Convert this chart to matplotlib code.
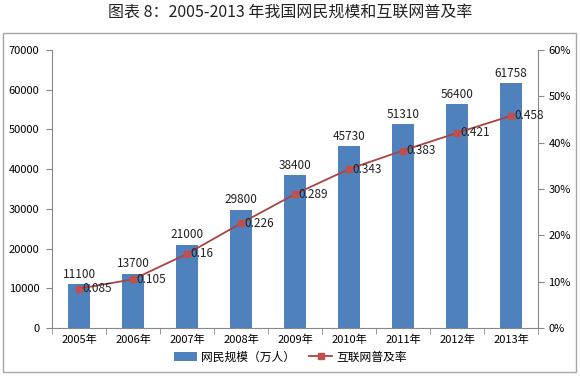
import numpy as np
import matplotlib
matplotlib.use("Agg")
import matplotlib.pyplot as plt
from matplotlib.patches import Rectangle
from matplotlib.ticker import FuncFormatter

plt.rcParams['font.family'] = ['Noto Sans CJK SC', 'DejaVu Sans']

years = ['2005年', '2006年', '2007年', '2008年', '2009年', '2010年', '2011年', '2012年', '2013年']
users = [11100, 13700, 21000, 29800, 38400, 45730, 51310, 56400, 61758]
rate = [0.085, 0.105, 0.16, 0.226, 0.289, 0.343, 0.383, 0.421, 0.458]
rate_labels = ['0.085', '0.105', '0.16', '0.226', '0.289', '0.343', '0.383', '0.421', '0.458']

bar_color = '#4F81BD'
line_color = '#A94440'
mark_color = '#C0504D'
axis_grey = '#888888'

fig = plt.figure(figsize=(5.8, 3.78), dpi=100)
fig.patch.set_facecolor('white')

# outer frame
fig.patches.append(Rectangle((3 / 580, 6 / 378), 573 / 580, 339 / 378,
                             transform=fig.transFigure, fill=False,
                             edgecolor='#A6A6A6', linewidth=1.0))

fig.text(0.5, 1 - 12 / 378, '图表 8：2005-2013 年我国网民规模和互联网普及率',
         ha='center', va='center', fontsize=11.5, color='#222222')

ax = fig.add_axes([52 / 580, 50 / 378, 486 / 580, 278 / 378])
x = np.arange(len(years))
bars = ax.bar(x, users, width=0.4, color=bar_color, label='网民规模（万人）', zorder=2)
ax.set_xlim(-0.5, len(years) - 0.5)
ax.set_ylim(0, 70000)
ax.set_yticks(np.arange(0, 70001, 10000))
ax.set_xticks(x)
ax.set_xticklabels(years, fontsize=8)
ax.set_xticks(np.arange(-0.5, len(years), 1), minor=True)
ax.tick_params(axis='x', which='major', length=0, pad=5)
ax.tick_params(axis='x', which='minor', length=4, color=axis_grey)
ax.tick_params(axis='y', labelsize=8, length=4, color=axis_grey, pad=5)
for s in ['top', 'right']:
    ax.spines[s].set_visible(False)
for s in ['left', 'bottom']:
    ax.spines[s].set_color(axis_grey)

for xi, v in zip(x, users):
    ax.text(xi, v + 800, str(v), ha='center', va='bottom', fontsize=8.5, color='#222222')

ax2 = ax.twinx()
ln, = ax2.plot(x, rate, color=line_color, linewidth=1.3, marker='s', markersize=5,
               markerfacecolor=mark_color, markeredgecolor=mark_color,
               label='互联网普及率', zorder=3)
ax2.set_ylim(0, 0.6)
ax2.set_yticks(np.arange(0, 0.61, 0.1))
ax2.yaxis.set_major_formatter(FuncFormatter(lambda v, p: '%d%%' % round(v * 100)))
ax2.tick_params(axis='y', labelsize=8, length=4, color=axis_grey)
for s in ['top', 'left', 'bottom']:
    ax2.spines[s].set_visible(False)
ax2.spines['right'].set_color(axis_grey)

for xi, v, t in zip(x, rate, rate_labels):
    ax2.text(xi + 0.06, v, t, ha='left', va='center', fontsize=8.5, color='#222222')

fig.legend([bars, ln], ['网民规模（万人）', '互联网普及率'], loc='center',
           bbox_to_anchor=(0.5, 1 - 357 / 378), ncol=2, frameon=False,
           fontsize=8.5, handlelength=2.0, columnspacing=1.2, handletextpad=0.3)

fig.savefig('out.png', dpi=100)
